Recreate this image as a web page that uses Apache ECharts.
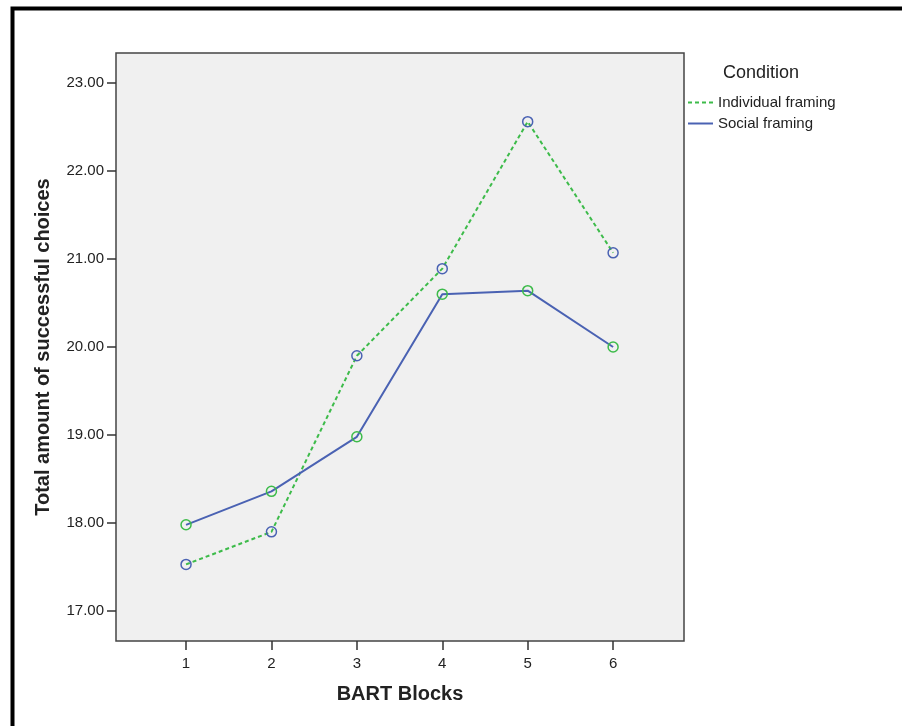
<!DOCTYPE html>
<html>
<head>
<meta charset="utf-8">
<script src="https://cdn.jsdelivr.net/npm/echarts@6/dist/echarts.min.js"></script>
<style>html,body{margin:0;padding:0;background:#fff;}#c{width:902px;height:726px;}</style>
</head>
<body>
<div id="c"></div>
<script>
var blocks = [1, 2, 3, 4, 5, 6];
var individualFraming = [17.53, 17.90, 19.90, 20.89, 22.56, 21.07];
var socialFraming = [17.98, 18.36, 18.98, 20.60, 20.64, 20.00];
var yTicks = [17, 18, 19, 20, 21, 22, 23];
var seriesNames = ['Individual framing', 'Social framing'];

var chart = echarts.init(document.getElementById('c'), null, {renderer: 'canvas'});
function pairs(vals) { return blocks.map(function (b, i) { return [b, vals[i]]; }); }
var GREEN = '#3dbb4a', BLUE = '#4a62b3';
var font = 'Liberation Sans, Arial, sans-serif';

chart.setOption({
  animation: false,
  backgroundColor: '#fff',
  graphic: [{
    type: 'rect', left: 10, top: 6, shape: {x: 0, y: 0, width: 1000, height: 1000},
    style: {fill: 'none', stroke: '#000', lineWidth: 4}, z: 100
  }],
  title: {
    text: 'Condition', left: 723, top: 64, padding: 0,
    textStyle: {fontFamily: font, fontSize: 18, fontWeight: 'normal', color: '#222'}
  },
  legend: {
    orient: 'vertical', left: 687, top: 95, padding: 0, itemGap: 6, itemWidth: 25, itemHeight: 14,
    textStyle: {fontFamily: font, fontSize: 15, color: '#222'},
    data: [
      {name: seriesNames[0], itemStyle: {opacity: 0}},
      {name: seriesNames[1], itemStyle: {opacity: 0}}
    ]
  },
  grid: {
    left: 116, top: 53, width: 568, height: 588, show: true,
    backgroundColor: '#f0f0f0', borderColor: '#444', borderWidth: 1.5
  },
  xAxis: {
    type: 'value', min: 0.18, max: 6.83,
    name: 'BART Blocks', nameLocation: 'middle', nameGap: 43,
    nameTextStyle: {fontFamily: font, fontSize: 20, fontWeight: 'bold', color: '#222'},
    axisLine: {show: false},
    axisTick: {show: true, length: 9, customValues: blocks, lineStyle: {color: '#333', width: 1.5}},
    axisLabel: {customValues: blocks, fontFamily: font, fontSize: 15, color: '#222', margin: 15},
    splitLine: {show: false}
  },
  yAxis: {
    type: 'value', min: 16.66, max: 23.34,
    name: 'Total amount of successful choices', nameLocation: 'middle', nameGap: 63,
    nameTextStyle: {fontFamily: font, fontSize: 20, fontWeight: 'bold', color: '#222'},
    axisLine: {show: false},
    axisTick: {show: true, length: 9, customValues: yTicks, lineStyle: {color: '#333', width: 1.5}},
    axisLabel: {customValues: yTicks, fontFamily: font, fontSize: 15, color: '#222', margin: 12,
      formatter: function (v) { return Number(v).toFixed(2); }},
    splitLine: {show: false}
  },
  series: [
    {
      name: seriesNames[0], type: 'line', data: pairs(individualFraming),
      symbol: 'circle', symbolSize: 10,
      lineStyle: {color: GREEN, width: 2, type: [4, 3]},
      itemStyle: {color: 'rgba(0,0,0,0)', borderColor: BLUE, borderWidth: 1.5}
    },
    {
      name: seriesNames[1], type: 'line', data: pairs(socialFraming),
      symbol: 'circle', symbolSize: 10,
      lineStyle: {color: BLUE, width: 2},
      itemStyle: {color: 'rgba(0,0,0,0)', borderColor: GREEN, borderWidth: 1.5}
    }
  ]
});
</script>
</body>
</html>
